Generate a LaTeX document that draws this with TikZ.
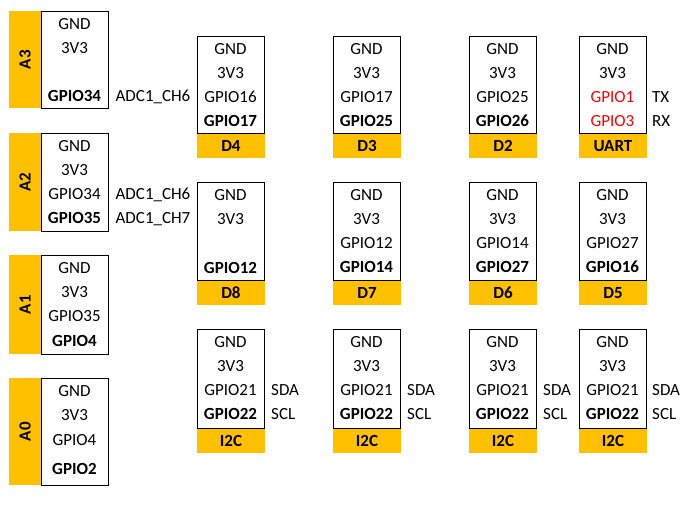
\documentclass[tikz,border=0pt]{standalone}
\usepackage{fontspec}
\setmainfont{Carlito}
\definecolor{barorange}{HTML}{FFC000}
\definecolor{pinred}{HTML}{FF0000}
\tikzset{
  pinbox/.style={draw=black, line width=0.9pt, fill=white, inner sep=0pt, anchor=north west},
  hbar/.style={fill=barorange, inner sep=0pt, anchor=north west, minimum width=67.5pt, minimum height=25pt, font=\fontsize{17}{20}\selectfont\bfseries, text height=11pt, text depth=0pt},
  vbar/.style={fill=barorange, inner sep=0pt, anchor=north west, minimum width=32pt},
  vlab/.style={rotate=90, inner sep=0pt, font=\fontsize{17}{20}\selectfont\bfseries, text height=11pt, text depth=0pt},
  pin/.style={inner sep=0pt, font=\fontsize{17}{20}\selectfont, text height=11pt, text depth=0pt},
  bpin/.style={pin, font=\fontsize{17}{20}\selectfont\bfseries},
  rpin/.style={pin, text=pinred},
  side/.style={pin, anchor=west},
}
\begin{document}
\begin{tikzpicture}[x=1pt,y=-1pt]
\useasboundingbox (0,0) rectangle (698,504);
% ---------- left column (A3..A0)
\node[vbar, minimum height=97pt] (a3bar) at (9,11) {};
\node[pinbox, minimum width=67pt, minimum height=97pt] (a3box) at (41,11) {};
\node[vlab] (a3lab) at (a3bar.center) {A3};
\node[pin] (a3p1) at (74.5,24) {GND};
\node[pin] (a3p2) at (74.5,48) {3V3};
\node[bpin] (a3p4) at (74.5,96) {GPIO34};
\node[pin] (a3s) at (153,96) {ADC1\_CH6};

\node[vbar, minimum height=98pt] (a2bar) at (9,133) {};
\node[pinbox, minimum width=67pt, minimum height=98pt] (a2box) at (41,133) {};
\node[vlab] (a2lab) at (a2bar.center) {A2};
\node[pin] (a2p1) at (74.5,146) {GND};
\node[pin] (a2p2) at (74.5,170) {3V3};
\node[pin] (a2p3) at (74.5,194) {GPIO34};
\node[bpin] (a2p4) at (74.5,218) {GPIO35};
\node[pin] (a2s1) at (153,194) {ADC1\_CH6};
\node[pin] (a2s2) at (153,218) {ADC1\_CH7};

\node[vbar, minimum height=99pt] (a1bar) at (9,255) {};
\node[pinbox, minimum width=67pt, minimum height=99pt] (a1box) at (41,255) {};
\node[vlab] (a1lab) at (a1bar.center) {A1};
\node[pin] (a1p1) at (74.5,268) {GND};
\node[pin] (a1p2) at (74.5,292) {3V3};
\node[pin] (a1p3) at (74.5,316) {GPIO35};
\node[bpin] (a1p4) at (74.5,341) {GPIO4};

\node[vbar, minimum height=107pt] (a0bar) at (9,378) {};
\node[pinbox, minimum width=67pt, minimum height=107pt] (a0box) at (41,378) {};
\node[vlab] (a0lab) at (a0bar.center) {A0};
\node[pin] (a0p1) at (74.5,391) {GND};
\node[pin] (a0p2) at (74.5,415) {3V3};
\node[pin] (a0p3) at (74.5,440) {GPIO4};
\node[bpin] (a0p4) at (74.5,469) {GPIO2};

% ---------- top row
\node[hbar] (d4bar) at (197,133) {D4};
\node[pinbox, minimum width=67pt, minimum height=97pt] (d4box) at (197,36) {};
\node[pin] at (230.5,49) (d4p1) {GND};
\node[pin] at (230.5,73) (d4p2) {3V3};
\node[pin] at (230.5,97) (d4p3) {GPIO16};
\node[bpin] at (230.5,121) (d4p4) {GPIO17};

\node[hbar] (d3bar) at (333,133) {D3};
\node[pinbox, minimum width=67pt, minimum height=97pt] (d3box) at (333,36) {};
\node[pin] at (366.5,49) (d3p1) {GND};
\node[pin] at (366.5,73) (d3p2) {3V3};
\node[pin] at (366.5,97) (d3p3) {GPIO17};
\node[bpin] at (366.5,121) (d3p4) {GPIO25};

\node[hbar] (d2bar) at (469,133) {D2};
\node[pinbox, minimum width=67pt, minimum height=97pt] (d2box) at (469,36) {};
\node[pin] at (502.5,49) (d2p1) {GND};
\node[pin] at (502.5,73) (d2p2) {3V3};
\node[pin] at (502.5,97) (d2p3) {GPIO25};
\node[bpin] at (502.5,121) (d2p4) {GPIO26};

\node[hbar] (uartbar) at (579,133) {UART};
\node[pinbox, minimum width=67pt, minimum height=97pt] (uartbox) at (579,36) {};
\node[pin] at (612.5,49) (up1) {GND};
\node[pin] at (612.5,73) (up2) {3V3};
\node[rpin] at (612.5,97) (up3) {GPIO1};
\node[rpin] at (612.5,121) (up4) {GPIO3};
\node[side] at (652,97) (utx) {TX};
\node[side] at (652,121) (urx) {RX};

% ---------- middle row
\node[hbar] (d8bar) at (197,280) {D8};
\node[pinbox, minimum width=67pt, minimum height=98pt] (d8box) at (197,182) {};
\node[pin] at (230.5,195) (d8p1) {GND};
\node[pin] at (230.5,219) (d8p2) {3V3};
\node[bpin] at (230.5,268) (d8p4) {GPIO12};

\node[hbar] (d7bar) at (333,280) {D7};
\node[pinbox, minimum width=67pt, minimum height=98pt] (d7box) at (333,182) {};
\node[pin] at (366.5,195) (d7p1) {GND};
\node[pin] at (366.5,219) (d7p2) {3V3};
\node[pin] at (366.5,243) (d7p3) {GPIO12};
\node[bpin] at (366.5,267) (d7p4) {GPIO14};

\node[hbar] (d6bar) at (469,280) {D6};
\node[pinbox, minimum width=67pt, minimum height=98pt] (d6box) at (469,182) {};
\node[pin] at (502.5,195) (d6p1) {GND};
\node[pin] at (502.5,219) (d6p2) {3V3};
\node[pin] at (502.5,243) (d6p3) {GPIO14};
\node[bpin] at (502.5,267) (d6p4) {GPIO27};

\node[hbar] (d5bar) at (579,280) {D5};
\node[pinbox, minimum width=67pt, minimum height=98pt] (d5box) at (579,182) {};
\node[pin] at (612.5,195) (d5p1) {GND};
\node[pin] at (612.5,219) (d5p2) {3V3};
\node[pin] at (612.5,243) (d5p3) {GPIO27};
\node[bpin] at (612.5,267) (d5p4) {GPIO16};

% ---------- bottom row (I2C)
\node[hbar] (i1bar) at (197,428) {I2C};
\node[pinbox, minimum width=67pt, minimum height=99pt] (i1box) at (197,329) {};
\node[pin] at (230.5,342) (i1p1) {GND};
\node[pin] at (230.5,366) (i1p2) {3V3};
\node[pin] at (230.5,390) (i1p3) {GPIO21};
\node[bpin] at (230.5,414) (i1p4) {GPIO22};
\node[side] at (271,390) (i1sda) {SDA};
\node[side] at (271,414) (i1scl) {SCL};

\node[hbar] (i2bar) at (333,428) {I2C};
\node[pinbox, minimum width=67pt, minimum height=99pt] (i2box) at (333,329) {};
\node[pin] at (366.5,342) (i2p1) {GND};
\node[pin] at (366.5,366) (i2p2) {3V3};
\node[pin] at (366.5,390) (i2p3) {GPIO21};
\node[bpin] at (366.5,414) (i2p4) {GPIO22};
\node[side] at (407,390) (i2sda) {SDA};
\node[side] at (407,414) (i2scl) {SCL};

\node[hbar] (i3bar) at (469,428) {I2C};
\node[pinbox, minimum width=67pt, minimum height=99pt] (i3box) at (469,329) {};
\node[pin] at (502.5,342) (i3p1) {GND};
\node[pin] at (502.5,366) (i3p2) {3V3};
\node[pin] at (502.5,390) (i3p3) {GPIO21};
\node[bpin] at (502.5,414) (i3p4) {GPIO22};
\node[side] at (543,390) (i3sda) {SDA};
\node[side] at (543,414) (i3scl) {SCL};

\node[hbar] (i4bar) at (579,428) {I2C};
\node[pinbox, minimum width=67pt, minimum height=99pt] (i4box) at (579,329) {};
\node[pin] at (612.5,342) (i4p1) {GND};
\node[pin] at (612.5,366) (i4p2) {3V3};
\node[pin] at (612.5,390) (i4p3) {GPIO21};
\node[bpin] at (612.5,414) (i4p4) {GPIO22};
\node[side] at (652,390) (i4sda) {SDA};
\node[side] at (652,414) (i4scl) {SCL};
\end{tikzpicture}
\end{document}
